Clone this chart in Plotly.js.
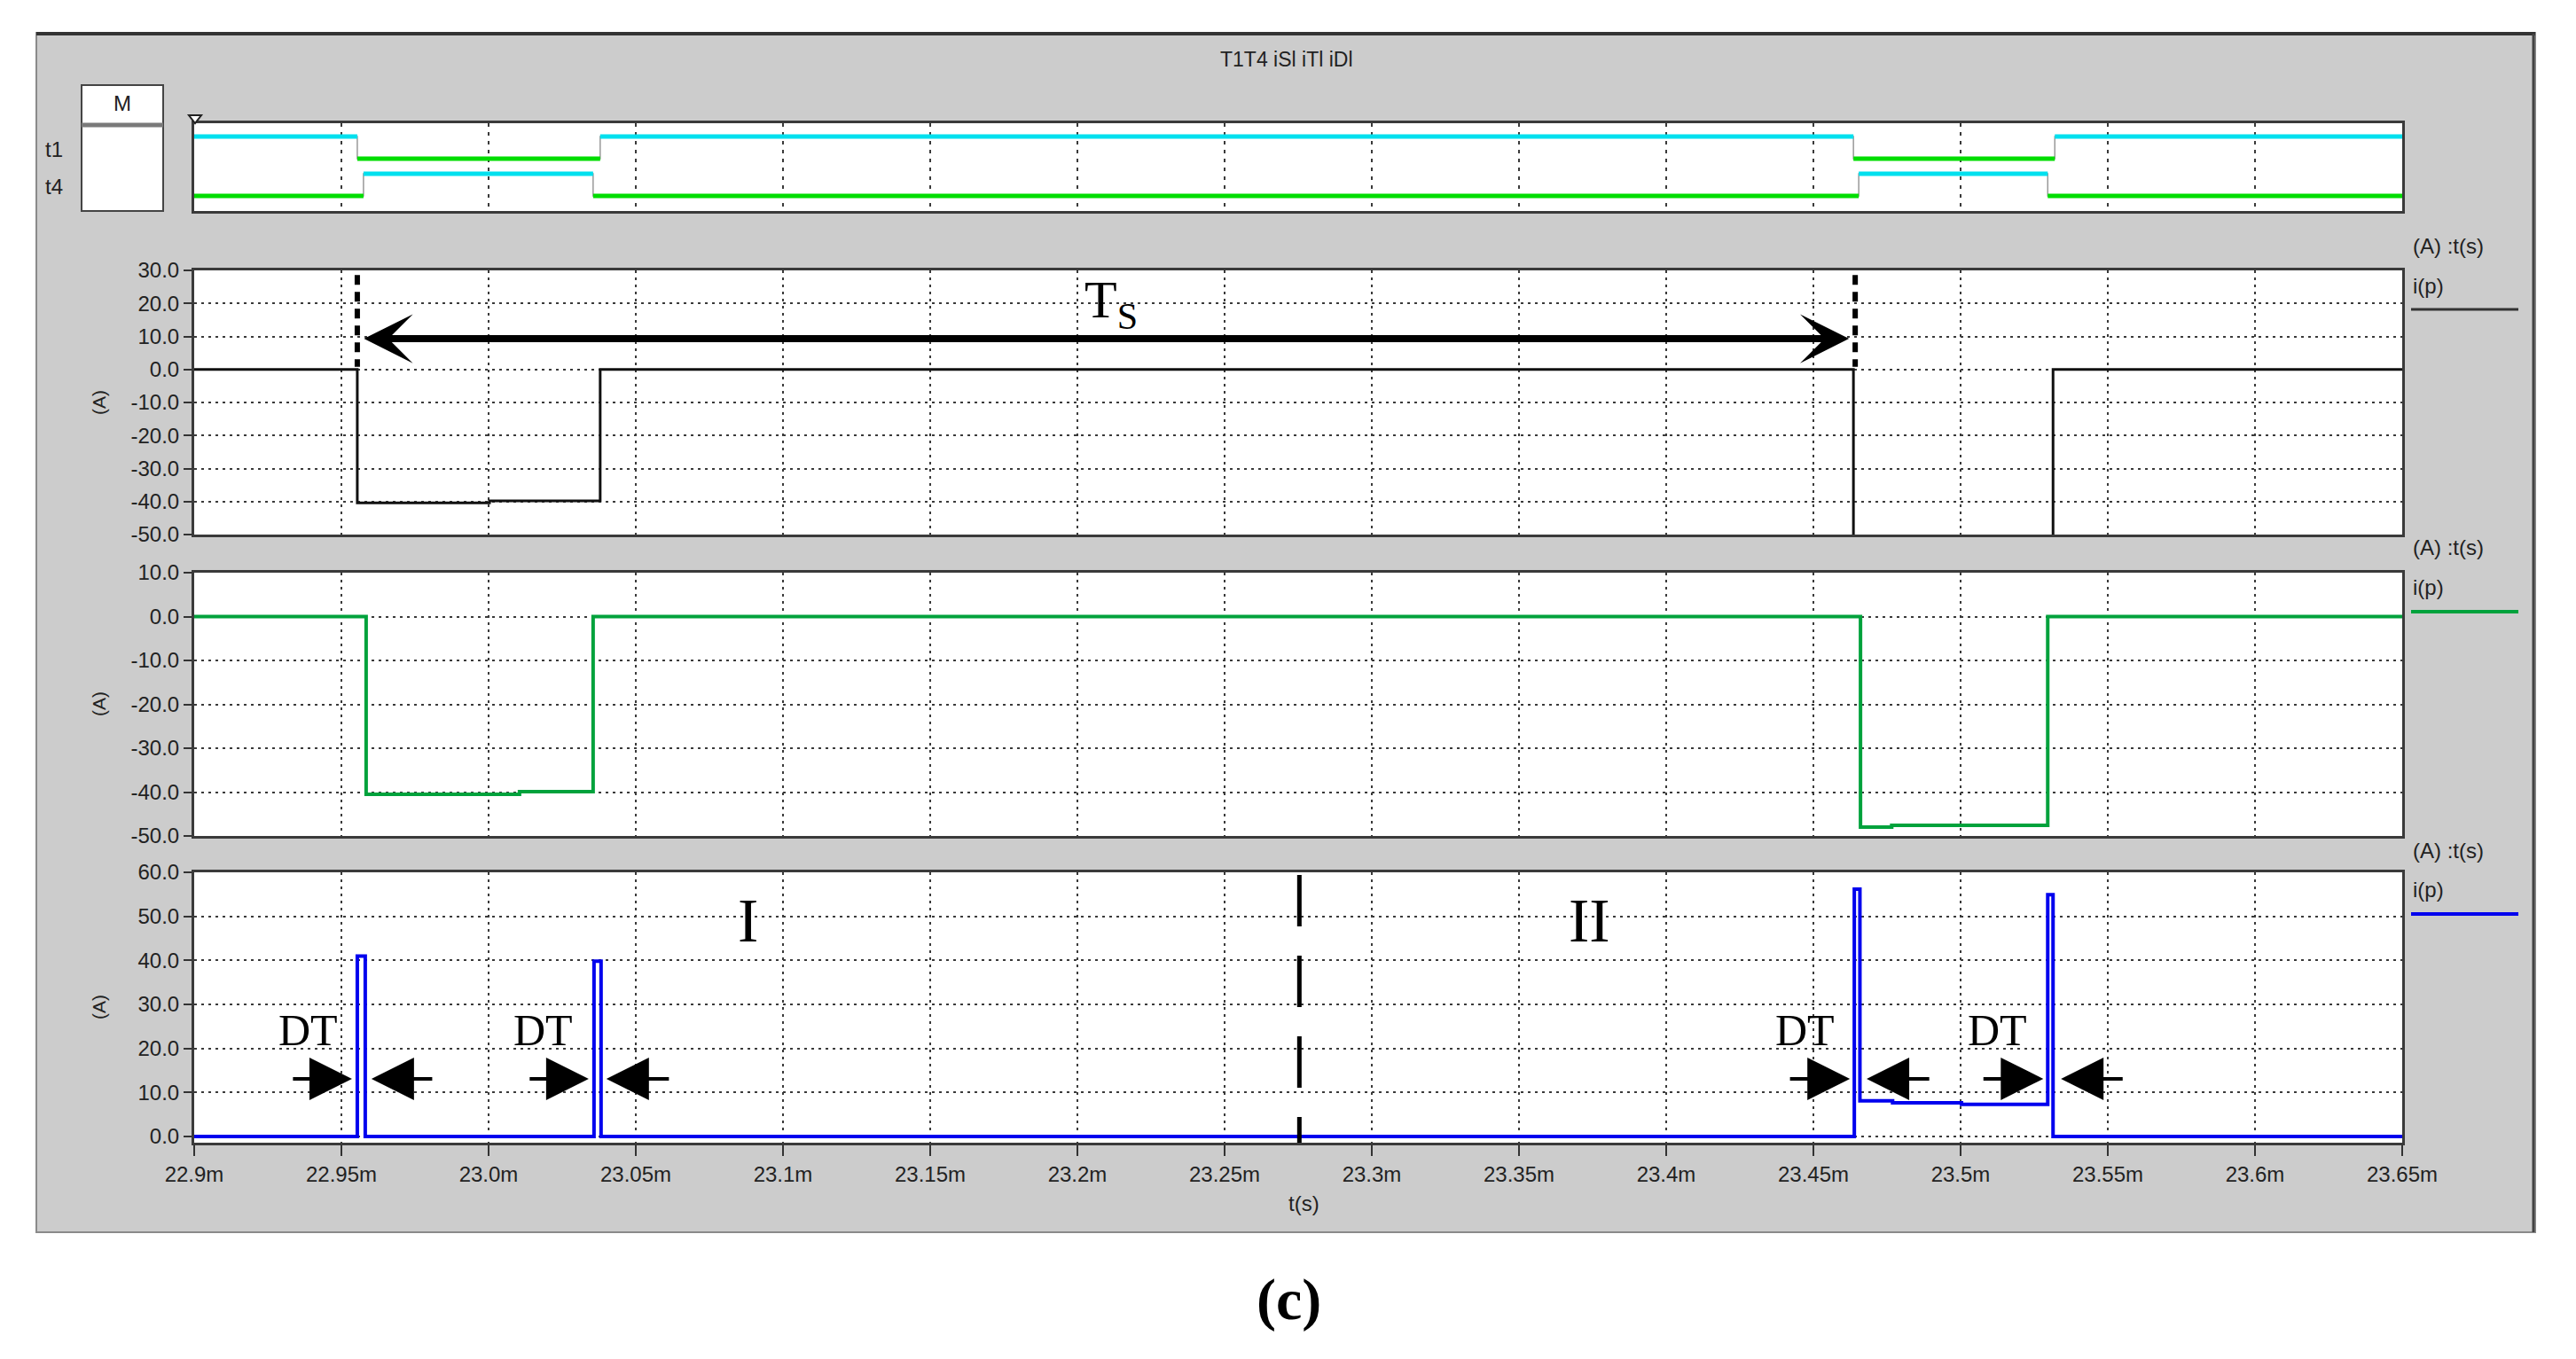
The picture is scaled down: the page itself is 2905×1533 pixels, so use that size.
<!DOCTYPE html>
<html><head><meta charset="utf-8">
<script src="https://cdn.plot.ly/plotly-3.0.1.min.js"></script>
<style>html,body{margin:0;padding:0;background:#fff;}</style>
</head><body>
<div id="chart" style="width:2905px;height:1533px;"></div>
<script>
// ---------------- DATA ----------------
const tickVals = [22.9,22.95,23.0,23.05,23.1,23.15,23.2,23.25,23.3,23.35,23.4,23.45,23.5,23.55,23.6,23.65];
const tickText = ['22.9m','22.95m','23.0m','23.05m','23.1m','23.15m','23.2m','23.25m','23.3m','23.35m','23.4m','23.45m','23.5m','23.55m','23.6m','23.65m'];
const tEnd = 23.65;

// gate signals (1 = high, 0 = low)
const t1Times  = [22.9, 22.9554, 23.0379, 23.4636, 23.5320];
const t1States = [1, 0, 1, 0, 1];
const t4Times  = [22.9, 22.9575, 23.0355, 23.4654, 23.5296];
const t4States = [0, 1, 0, 1, 0];

// iS (black)
const iSTimes = [22.9, 22.9554, 23.0003, 23.0379, 23.4636, 23.5314, 23.65];
const iSVals  = [0, -40.4, -39.8, 0, -56, 0, 0];
// iT (green)
const iTTimes = [22.9, 22.9584, 23.0105, 23.0355, 23.4660, 23.4766, 23.5296, 23.65];
const iTVals  = [0, -40.5, -39.9, 0, -48.0, -47.6, 0, 0];
// iD (blue)
const iDTimes = [22.9, 22.9554, 22.9581, 23.0358, 23.0382, 23.4639, 23.4658, 23.4769, 23.5003, 23.5296, 23.5314, 23.65];
const iDVals  = [0, 41.0, 0, 39.8, 0, 56.2, 8.1, 7.65, 7.3, 54.9, 0, 0];

// y ticks
const y1Ticks = [-50,-40,-30,-20,-10,0,10,20,30];
const y1Text  = ['-50.0','-40.0','-30.0','-20.0','-10.0','0.0','10.0','20.0','30.0'];
const y2Ticks = [-50,-40,-30,-20,-10,0,10];
const y2Text  = ['-50.0','-40.0','-30.0','-20.0','-10.0','0.0','10.0'];
const y3Ticks = [0,10,20,30,40,50,60];
const y3Text  = ['0.0','10.0','20.0','30.0','40.0','50.0','60.0'];

// annotation positions (time in ms, value in A)
const tsStart = 22.9572, tsEnd = 23.4621, tsY = 9.3;
const tsLineX = [22.9554, 23.4642];
const dividerX = 23.2754;
const dtLabelX = [22.9388, 23.0186, 23.4471, 23.5124];
const dtLabelY = 24.2;
const dtRightTail = [22.9331, 23.0135, 23.4416, 23.5073];
const dtRightTip  = [22.9536, 23.0340, 23.4624, 23.5281];
const dtLeftTail  = [22.9813, 23.0617, 23.4898, 23.5555];
const dtLeftTip   = [22.9602, 23.0400, 23.4681, 23.5341];
const dtArrowY = 13.1;

// ---------------- LAYOUT HELPERS ----------------
const W = 2905, H = 1533;
const P = x => x / W;
const Q = y => 1 - y / H;
const SANS = 'Liberation Sans, Arial, sans-serif';
const SERIF = 'Liberation Serif, Times New Roman, serif';
const GRID = '#3a3a3a';
const GRIDDASH = '3px,5px';

const CYAN = '#00e0ee', LGREEN = '#00dd00';
const GREEN = '#00a23c', BLUE = '#0000ee', BLACK = '#111111';

const t1Off = 1.68, t4Off = 0;

function segments(times, states, want, off) {
  const x = [], y = [];
  for (let i = 0; i < times.length; i++) {
    if (states[i] !== want) continue;
    const t0 = times[i], t1 = (i + 1 < times.length) ? times[i + 1] : tEnd;
    x.push(t0, t1, null); y.push(states[i] + off, states[i] + off, null);
  }
  return {x, y};
}
function transitions(times, states, off) {
  return {x: times.concat([tEnd]), y: states.concat([states[states.length - 1]]).map(v => v + off)};
}

const traces = [];
[[t1Times, t1States, t1Off], [t4Times, t4States, t4Off]].forEach(([tt, ss, off]) => {
  const tr = transitions(tt, ss, off);
  traces.push({x: tr.x, y: tr.y, xaxis: 'x', yaxis: 'y', mode: 'lines', line: {shape: 'hv', color: '#9a9a9a', width: 1.5}, hoverinfo: 'skip'});
  const hi = segments(tt, ss, 1, off), lo = segments(tt, ss, 0, off);
  traces.push({x: hi.x, y: hi.y, xaxis: 'x', yaxis: 'y', mode: 'lines', line: {color: CYAN, width: 5}, connectgaps: false});
  traces.push({x: lo.x, y: lo.y, xaxis: 'x', yaxis: 'y', mode: 'lines', line: {color: LGREEN, width: 5}, connectgaps: false});
});
traces.push({x: iSTimes, y: iSVals, xaxis: 'x2', yaxis: 'y2', mode: 'lines', line: {shape: 'hv', color: BLACK, width: 3}});
traces.push({x: iTTimes, y: iTVals, xaxis: 'x3', yaxis: 'y3', mode: 'lines', line: {shape: 'hv', color: GREEN, width: 4}});
traces.push({x: iDTimes, y: iDVals, xaxis: 'x4', yaxis: 'y4', mode: 'lines', line: {shape: 'hv', color: BLUE, width: 4}});

const xDom = [P(219), P(2709)];
function xAxis(showLabels) {
  return {
    domain: xDom, range: [22.9, 23.65], tickvals: tickVals, ticktext: tickText,
    showticklabels: showLabels, ticks: showLabels ? 'outside' : '', ticklen: 12, tickwidth: 2, tickcolor: '#333',
    showgrid: true, gridcolor: GRID, griddash: GRIDDASH, gridwidth: 2, zeroline: false,
    showline: true, mirror: true, linecolor: '#3a3a3a', linewidth: 3,
    tickfont: {family: SANS, size: 24, color: '#222'}, fixedrange: true
  };
}
function yAxis(dom, range, tv, tt) {
  return {
    domain: dom, range: range, tickvals: tv, ticktext: tt,
    ticks: 'outside', ticklen: 9, tickwidth: 2, tickcolor: '#333',
    showgrid: true, gridcolor: GRID, griddash: GRIDDASH, gridwidth: 2, zeroline: false,
    showline: true, mirror: true, linecolor: '#3a3a3a', linewidth: 3,
    tickfont: {family: SANS, size: 24, color: '#222'}, fixedrange: true
  };
}

const layout = {
  width: W, height: H, margin: {l: 0, r: 0, t: 0, b: 0},
  paper_bgcolor: '#cccccc', plot_bgcolor: '#ffffff', showlegend: false,
  xaxis: Object.assign(xAxis(false), {anchor: 'y', griddash: '4px,6px'}),
  yaxis: {domain: [Q(238), Q(139)], range: [-0.68, 3.28], showticklabels: false, ticks: '', showgrid: false, zeroline: false,
          showline: true, mirror: true, linecolor: '#3a3a3a', linewidth: 3, fixedrange: true, anchor: 'x'},
  xaxis2: Object.assign(xAxis(false), {anchor: 'y2', matches: 'x'}),
  yaxis2: Object.assign(yAxis([Q(603), Q(305)], [-50, 30], y1Ticks, y1Text), {anchor: 'x2'}),
  xaxis3: Object.assign(xAxis(false), {anchor: 'y3', matches: 'x'}),
  yaxis3: Object.assign(yAxis([Q(943), Q(646)], [-50, 10], y2Ticks, y2Text), {anchor: 'x3'}),
  xaxis4: Object.assign(xAxis(true), {anchor: 'y4', matches: 'x'}),
  yaxis4: Object.assign(yAxis([Q(1289), Q(984)], [-1.4, 60], y3Ticks, y3Text), {anchor: 'x4'}),
  shapes: [], annotations: []
};

const S = layout.shapes, A = layout.annotations;
// white page outside gray frame
[[0, 1, Q(37), 1], [0, 1, 0, Q(1390)], [0, P(41), 0, 1], [P(2859), 1, 0, 1]].forEach(r => {
  S.push({type: 'rect', xref: 'paper', yref: 'paper', x0: r[0], x1: r[1], y0: r[2], y1: r[3], fillcolor: '#ffffff', line: {width: 0}, layer: 'below'});
});
// frame border
S.push({type: 'rect', xref: 'paper', yref: 'paper', x0: P(41), x1: P(2859), y0: Q(1390), y1: Q(37), line: {color: '#8a8a8a', width: 2}});
S.push({type: 'line', xref: 'paper', yref: 'paper', x0: P(41), x1: P(2859), y0: Q(38), y1: Q(38), line: {color: '#333', width: 4}});
S.push({type: 'line', xref: 'paper', yref: 'paper', x0: P(2857), x1: P(2857), y0: Q(38), y1: Q(1390), line: {color: '#444', width: 3}});
// M box
S.push({type: 'rect', xref: 'paper', yref: 'paper', x0: P(92), x1: P(184), y0: Q(238), y1: Q(96), fillcolor: '#ffffff', line: {color: '#444', width: 2}});
S.push({type: 'line', xref: 'paper', yref: 'paper', x0: P(92), x1: P(184), y0: Q(141), y1: Q(141), line: {color: '#7a7a7a', width: 5}});
// cursor marker
S.push({type: 'path', xref: 'paper', yref: 'paper', path: `M${P(213)},${Q(130)} L${P(227)},${Q(130)} L${P(220)},${Q(139)} Z`, fillcolor: '#ffffff', line: {color: '#222', width: 2}});
// legend lines
[[349, '#333333', 3], [690, GREEN, 4], [1031, BLUE, 4]].forEach(([y, c, w]) => {
  S.push({type: 'line', xref: 'paper', yref: 'paper', x0: P(2719), x1: P(2840), y0: Q(y), y1: Q(y), line: {color: c, width: w}});
});
// Ts end markers
tsLineX.forEach(x => S.push({type: 'line', xref: 'x2', yref: 'y2', x0: x, x1: x, y0: 28.6, y1: 0.8, line: {color: '#000', width: 6, dash: '11px,8px'}}));
// divider between I and II
S.push({type: 'line', xref: 'x4', yref: 'y4', x0: dividerX, x1: dividerX, y0: 59.4, y1: -1.4, line: {color: '#000', width: 5, dash: '58px,33px'}});

// texts
function ptxt(text, x, y, size, opts) {
  A.push(Object.assign({text: text, xref: 'paper', yref: 'paper', x: P(x), y: Q(y), xanchor: 'center', yanchor: 'middle',
    showarrow: false, font: {family: SANS, size: size, color: '#222'}}, opts || {}));
}
ptxt('T1T4 iSl iTl iDl', 1451, 67, 23);
ptxt('M', 138, 116, 24);
ptxt('t1', 61, 168, 24);
ptxt('t4', 61, 210, 24);
[454, 794, 1136].forEach(y => ptxt('(A)', 111, y, 21, {textangle: -90}));
[277, 617, 959].forEach(y => ptxt('(A) :t(s)', 2719, y, 24, {xanchor: 'left'}));
[322, 662, 1003].forEach(y => ptxt('i(p)', 2719, y, 24, {xanchor: 'left'}));
ptxt('t(s)', 1471, 1357, 24);
ptxt('(c)', 1453, 1466, 66, {font: {family: SERIF, size: 66, color: '#000', weight: 'bold'}});

// Ts double arrow
A.push({xref: 'x2', yref: 'y2', axref: 'x2', ayref: 'y2', x: tsEnd, y: tsY, ax: tsStart, ay: tsY, text: '',
  showarrow: true, arrowside: 'end+start', arrowhead: 3, startarrowhead: 3, arrowsize: 1.15, startarrowsize: 1.15,
  arrowwidth: 8, arrowcolor: '#000', standoff: 0, startstandoff: 0});
A.push({xref: 'x2', yref: 'y2', x: 23.2113, y: 19.8, text: 'T<sub>S</sub>', showarrow: false,
  font: {family: SERIF, size: 60, color: '#000'}, xanchor: 'center', yanchor: 'middle'});
A.push({xref: 'x4', yref: 'y4', x: 23.0882, y: 49.0, text: 'I', showarrow: false, font: {family: SERIF, size: 70, color: '#000'}});
A.push({xref: 'x4', yref: 'y4', x: 23.3739, y: 49.0, text: 'II', showarrow: false, font: {family: SERIF, size: 70, color: '#000'}});
dtLabelX.forEach(x => A.push({xref: 'x4', yref: 'y4', x: x, y: dtLabelY, text: 'DT', showarrow: false, font: {family: SERIF, size: 50, color: '#000'}}));
function dtArrow(tail, tip) {
  A.push({xref: 'x4', yref: 'y4', axref: 'x4', ayref: 'y4', x: tip, y: dtArrowY, ax: tail, ay: dtArrowY, text: '',
    showarrow: true, arrowhead: 2, arrowsize: 2.4, arrowwidth: 4, arrowcolor: '#000', standoff: 0});
}
dtRightTail.forEach((t, i) => dtArrow(t, dtRightTip[i]));
dtLeftTail.forEach((t, i) => dtArrow(t, dtLeftTip[i]));

Plotly.newPlot('chart', traces, layout, {displayModeBar: false, staticPlot: true});
</script>
</body></html>
